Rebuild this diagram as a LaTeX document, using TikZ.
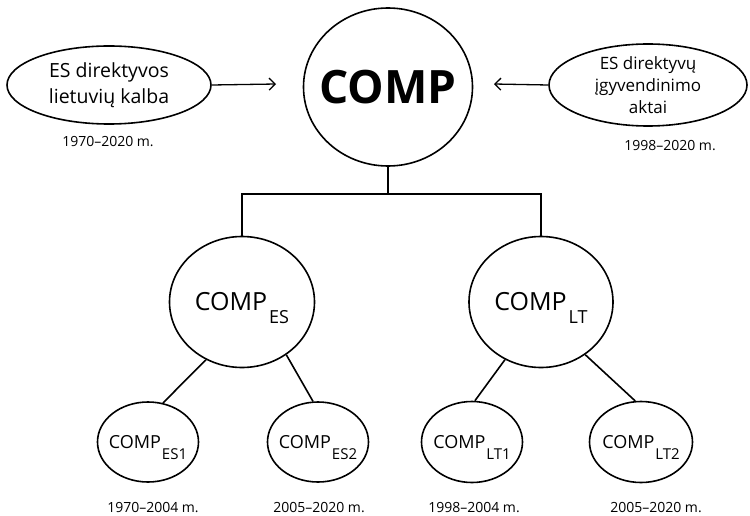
\documentclass[tikz,border=0pt]{standalone}
\usepackage{fontspec}
\setmainfont{Open Sans}
\usetikzlibrary{shapes.geometric,arrows.meta}
\begin{document}
\begin{tikzpicture}[x=1pt,y=-1pt,
  bub/.style={draw, ellipse, inner sep=0pt, line width=1.6pt},
  conn/.style={line width=1.6pt},
  arr/.style={line width=1.3pt,-{Straight Barb[length=6pt,width=12pt,line width=1.3pt]}},
  datelbl/.style={anchor=base, inner sep=0pt, font=\fontsize{14}{16}\selectfont},
  midtxt/.style={font=\fontsize{25}{25}\selectfont, inner sep=0pt},
  smalltxt/.style={font=\fontsize{18}{18}\selectfont, inner sep=0pt}
]
\useasboundingbox (0,0) rectangle (750,516);
% top level
\node[bub, minimum width=169pt, minimum height=158pt,
  label={[font=\fontsize{46}{46}\selectfont\bfseries, inner sep=0pt]center:COMP}] (comp) at (388,87) {};
\node[bub, minimum width=204pt, minimum height=78pt,
  label={[align=center, inner sep=0pt, font=\fontsize{19.5}{26}\selectfont]center:ES direktyvos\\lietuvių kalba}] (src1) at (109,85) {};
\node[bub, minimum width=198pt, minimum height=82pt,
  label={[align=center, inner sep=0pt, font=\fontsize{17}{22}\selectfont]center:ES direktyvų\\įgyvendinimo\\aktai}] (src2) at (648,85) {};
\node[datelbl] (d1) at (108,147) {1970–2020 m.};
\node[datelbl] (d2) at (670,150) {1998–2020 m.};
\draw[arr] (src1.east) -- (276,84) coordinate (a1);
\draw[arr] (src2.west) -- (494,84) coordinate (a2);
% second level
\node[bub, minimum width=145pt, minimum height=131pt,
  label={[midtxt]center:COMP\hspace{2pt}\raisebox{-13pt}[0pt][0pt]{\fontsize{18}{18}\selectfont ES}}] (es) at (242,302) {};
\node[bub, minimum width=144pt, minimum height=131pt,
  label={[midtxt]center:COMP\hspace{2pt}\raisebox{-13pt}[0pt][0pt]{\fontsize{18}{18}\selectfont LT}}] (lt) at (541,302) {};
\coordinate (j) at (388,194);
\draw[conn] (comp.south) -- (j);
\draw[conn] (es.north) |- (j) -| (lt.north);
% third level
\node[bub, minimum width=101pt, minimum height=80pt,
  label={[smalltxt]center:COMP\hspace{1pt}\raisebox{-11pt}[0pt][0pt]{\fontsize{15}{15}\selectfont ES1}}] (es1) at (148,442) {};
\node[bub, minimum width=101pt, minimum height=80pt,
  label={[smalltxt]center:COMP\hspace{1pt}\raisebox{-11pt}[0pt][0pt]{\fontsize{15}{15}\selectfont ES2}}] (es2) at (318,442) {};
\node[bub, minimum width=101pt, minimum height=81pt,
  label={[smalltxt]center:COMP\hspace{1pt}\raisebox{-11pt}[0pt][0pt]{\fontsize{15}{15}\selectfont LT1}}] (lt1) at (472,442) {};
\node[bub, minimum width=103pt, minimum height=81pt,
  label={[smalltxt]center:COMP\hspace{1pt}\raisebox{-11pt}[0pt][0pt]{\fontsize{15}{15}\selectfont LT2}}] (lt2) at (641,442) {};
\draw[conn] (es.-122) -- (es1.69);
\draw[conn] (es.-50) -- (es2.97);
\draw[conn] (lt.-122) -- (lt1.86);
\draw[conn] (lt.-50) -- (lt2.98);
\node[datelbl] (d3) at (153,512) {1970–2004 m.};
\node[datelbl] (d4) at (319,512) {2005–2020 m.};
\node[datelbl] (d5) at (474,512) {1998–2004 m.};
\node[datelbl] (d6) at (656,512) {2005–2020 m.};
\end{tikzpicture}
\end{document}
